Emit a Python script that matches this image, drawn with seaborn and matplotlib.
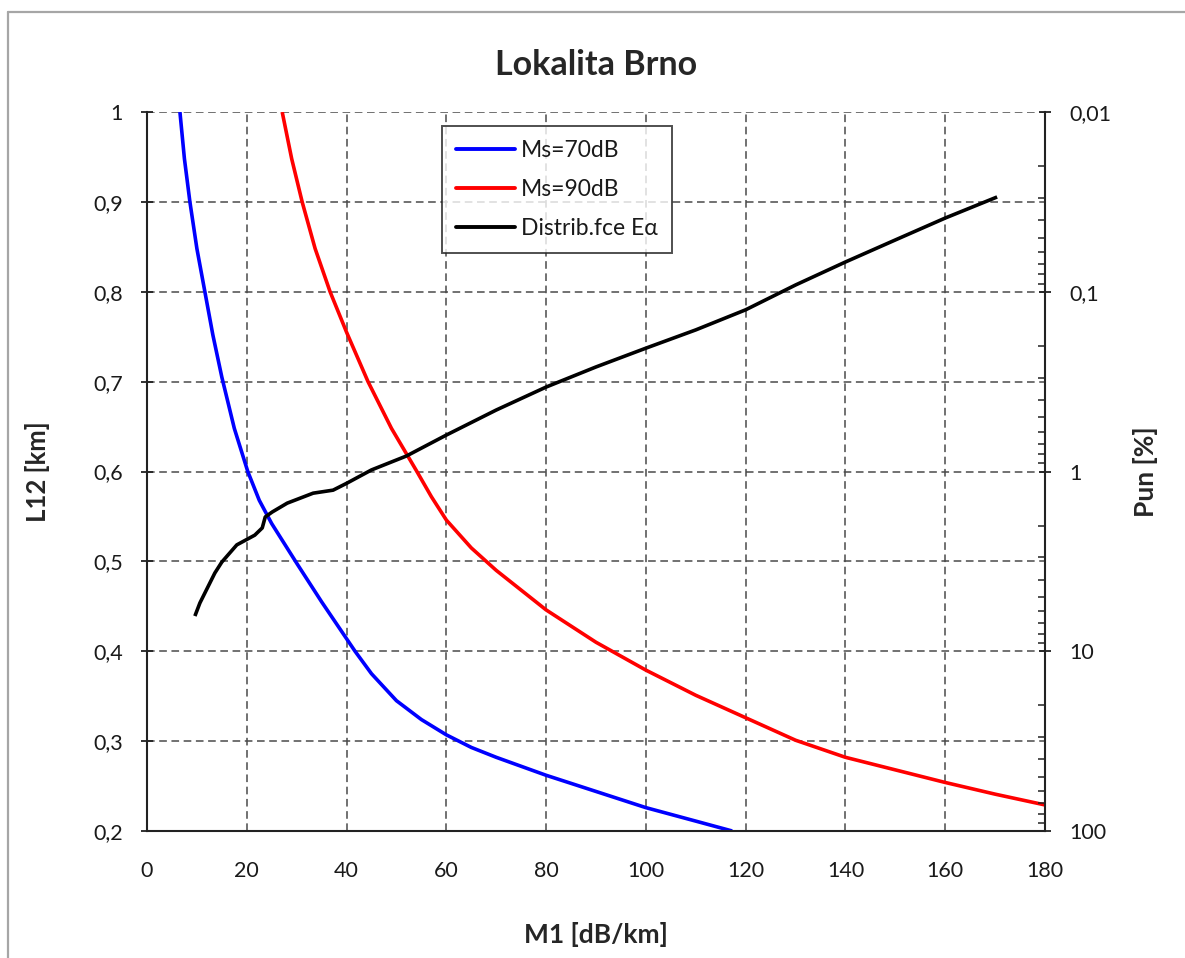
import numpy as np
import pandas as pd
import matplotlib.pyplot as plt
import matplotlib.ticker as mticker
from matplotlib.lines import Line2D
import seaborn as sns

# DATA
ms70_m1 = [6.6, 7.5, 8.6, 10, 11.6, 13.2, 15, 17.5, 20.2, 22.5, 25, 30, 35, 41.7, 45, 50, 55,
           60, 65, 70, 80, 90, 100, 110, 117.3]
ms70_l12 = [1.0, 0.948, 0.9, 0.848, 0.8, 0.752, 0.705, 0.648, 0.6, 0.568, 0.542, 0.498, 0.455,
            0.40, 0.375, 0.345, 0.324, 0.307, 0.293, 0.282, 0.262, 0.244, 0.226, 0.211, 0.20]

ms90_m1 = [27.1, 29, 31.1, 33.7, 36.7, 40, 44.3, 49, 54.1, 57, 60, 65, 70, 80, 90, 100, 110,
           120, 130, 140, 150, 160, 170, 180]
ms90_l12 = [1.0, 0.948, 0.9, 0.848, 0.8, 0.755, 0.7, 0.648, 0.6, 0.572, 0.546, 0.515, 0.49,
            0.446, 0.41, 0.379, 0.351, 0.326, 0.301, 0.282, 0.268, 0.254, 0.241, 0.229]

distr_m1 = [9.6, 10.6, 13.6, 15.0, 18.0, 21.6, 23.1, 23.7, 25.1, 28.1, 33.3, 37.3, 40.1, 45,
            52, 60, 70, 80, 90, 100, 110, 120, 130, 140, 150, 160, 170.4]
distr_pun = [6.37, 5.39, 3.67, 3.19, 2.56, 2.26, 2.06, 1.79, 1.68, 1.50, 1.32, 1.27, 1.16, 0.98,
             0.82, 0.627, 0.455, 0.339, 0.262, 0.206, 0.163, 0.126, 0.0917, 0.0683, 0.0515,
             0.0389, 0.0297]

x_ticks = [0, 20, 40, 60, 80, 100, 120, 140, 160, 180]
left_ticks = [0.2, 0.3, 0.4, 0.5, 0.6, 0.7, 0.8, 0.9, 1.0]
right_ticks = [0.01, 0.1, 1, 10, 100]

# STYLE
sns.set_style("white")
plt.rcParams['font.family'] = ['Lato', 'DejaVu Sans']

fig = plt.figure(figsize=(11.85, 9.58), dpi=100)
ax = fig.add_axes([147/1185, 1-831/958, 898/1185, 719/958])
ax2 = ax.twinx()

# gray outer frame (top and left edges visible in the crop)
fig.add_artist(Line2D([8/1185, 8/1185], [-0.05, 1-12/958], transform=fig.transFigure,
                      color='#a6a6a6', lw=1.6))
fig.add_artist(Line2D([8/1185, 1.05], [1-12/958, 1-12/958], transform=fig.transFigure,
                      color='#a6a6a6', lw=1.6))

# curves
sns.lineplot(x=ms70_m1, y=ms70_l12, ax=ax, color='#0000ff', lw=2.6, legend=False)
sns.lineplot(x=ms90_m1, y=ms90_l12, ax=ax, color='#ff0000', lw=2.6, legend=False)
sns.lineplot(x=distr_m1, y=distr_pun, ax=ax2, color='black', lw=2.6, legend=False)
for a in (ax, ax2):
    for ln in a.get_lines():
        ln.set_solid_joinstyle('round')
        ln.set_solid_capstyle('butt')

# axes limits / scales
ax.set_xlim(0, 180)
ax.set_ylim(0.2, 1.0)
ax2.set_yscale('log')
ax2.set_ylim(100, 0.01)

comma = mticker.FuncFormatter(lambda v, p: f"{v:g}".replace('.', ','))
ax.set_xticks(x_ticks)
ax.set_yticks(left_ticks)
ax.yaxis.set_major_formatter(comma)
ax2.yaxis.set_major_locator(mticker.FixedLocator(right_ticks))
ax2.yaxis.set_minor_locator(mticker.LogLocator(base=10, subs=np.arange(2, 10)))
ax2.yaxis.set_major_formatter(comma)
ax2.yaxis.set_minor_formatter(mticker.NullFormatter())

# grid
ax.grid(True, color='#4a4a4a', lw=1.1, linestyle=(0, (5, 3)))
ax.set_axisbelow(True)

# spines
for a in (ax, ax2):
    a.spines['top'].set_visible(False)
    for s in ('left', 'right', 'bottom'):
        a.spines[s].set_color('#222222')
        a.spines[s].set_linewidth(1.5)
ax.spines['right'].set_visible(False)
ax2.spines['left'].set_visible(False)
ax2.spines['bottom'].set_visible(False)

ax.tick_params(axis='both', which='major', direction='inout', length=9, width=1.3,
               color='#222222', labelsize=15.5, labelcolor='#1a1a1a', pad=13)
ax.tick_params(axis='x', pad=17)
ax2.tick_params(axis='y', which='major', direction='inout', length=9, width=1.3,
                color='#222222', labelsize=15.5, labelcolor='#1a1a1a', pad=13)
ax2.tick_params(axis='y', which='minor', direction='in', length=5, width=1.1, color='#222222')

# labels
ax.set_xlabel('M1 [dB/km]', fontsize=19, fontweight='bold')
ax.set_ylabel('L12 [km]', fontsize=18.5, fontweight='bold')
ax2.set_ylabel('Pun [%]', fontsize=19, fontweight='bold')
ax.xaxis.set_label_coords(0.5, -0.126)
ax.yaxis.set_label_coords(-0.108, 0.5)
ax2.yaxis.set_label_coords(1.098, 0.5)
ax.set_title('Lokalita Brno', fontsize=24.5, fontweight='bold', y=1.04)

# legend
handles = [Line2D([], [], color='#0000ff', lw=2.8),
           Line2D([], [], color='#ff0000', lw=2.8),
           Line2D([], [], color='black', lw=2.8)]
labels = ['Ms=70dB', 'Ms=90dB', 'Distrib.fce E\u03b1']
leg = ax2.legend(handles, labels, loc='upper left', bbox_to_anchor=(0.3285, 0.9805),
                 borderaxespad=0, fancybox=False, frameon=True, edgecolor='#222222',
                 fontsize=16.5, handlelength=2.6, handletextpad=0.25, labelspacing=0.8,
                 borderpad=0.6)
leg.get_frame().set_linewidth(1.4)
for t in leg.get_texts():
    t.set_color('#1a1a1a')

fig.savefig('out.png', dpi=100)
